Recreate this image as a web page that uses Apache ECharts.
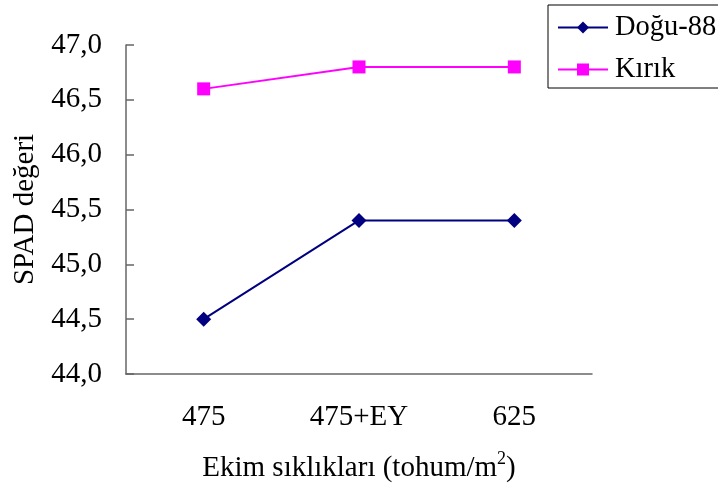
<!DOCTYPE html>
<html><head><meta charset="utf-8">
<script src="https://cdn.jsdelivr.net/npm/echarts@6/dist/echarts.min.js"></script>
<style>html,body{margin:0;padding:0;background:#fff}#c{width:718px;height:484px}</style>
</head><body><div id="c"></div>
<script>
const categories = ['475', '475+EY', '625'];
const dogu88 = [44.5, 45.4, 45.4];
const kirik = [46.6, 46.8, 46.8];
const yTicks = [44.0, 44.5, 45.0, 45.5, 46.0, 46.5, 47.0];

const font = 'Liberation Serif';
const chart = echarts.init(document.getElementById('c'));
chart.setOption({
  animation: false,
  textStyle: {fontFamily: font},
  grid: {left: 126, top: 45, width: 466, height: 329, outerBoundsMode: 'none', containLabel: false},
  legend: {
    left: 548, top: 5,
    orient: 'vertical', align: 'left',
    borderColor: '#000', borderWidth: 1,
    padding: [8, 40, 4, 9],
    itemGap: 13,
    itemWidth: 50, itemHeight: 15,
    textStyle: {fontFamily: font, fontSize: 28.5, color: '#000', padding: [0, 0, 0, 2]},
    data: ['Doğu-88', 'Kırık']
  },
  xAxis: {
    type: 'category', data: categories, boundaryGap: true,
    name: '{a|Ekim sıklıkları (tohum/m}{s|2}{a|)}',
    nameLocation: 'middle', nameGap: 76,
    nameTextStyle: {rich: {a: {fontFamily: font, fontSize: 29, color: '#000', verticalAlign: 'bottom'}, s: {fontFamily: font, fontSize: 18, color: '#000', verticalAlign: 'top', padding: [0, 0, 15, 0]}}},
    axisLine: {lineStyle: {color: '#666', width: 1.5}},
    axisTick: {show: false},
    axisLabel: {margin: 29, fontFamily: font, fontSize: 29, color: '#000'}
  },
  yAxis: {
    type: 'value', min: 44, max: 47, interval: 0.5,
    name: 'SPAD değeri', nameLocation: 'middle', nameGap: 86, nameRotate: 90,
    nameTextStyle: {fontFamily: font, fontSize: 29, color: '#000'},
    axisLine: {show: true, lineStyle: {color: '#666', width: 1.5}},
    axisTick: {show: true, inside: true, length: 8, lineStyle: {color: '#666', width: 1.5}},
    splitLine: {show: false},
    axisLabel: {margin: 24, fontFamily: font, fontSize: 29, color: '#000',
      formatter: v => v.toFixed(1).replace('.', ',')}
  },
  series: [
    {name: 'Doğu-88', type: 'line', data: dogu88, symbol: 'diamond', symbolSize: 15,
     lineStyle: {color: '#000080', width: 2}, itemStyle: {color: '#000080'}},
    {name: 'Kırık', type: 'line', data: kirik, symbol: 'rect', symbolSize: 13,
     lineStyle: {color: '#FF00FF', width: 2}, itemStyle: {color: '#FF00FF'}}
  ]
});
</script></body></html>
